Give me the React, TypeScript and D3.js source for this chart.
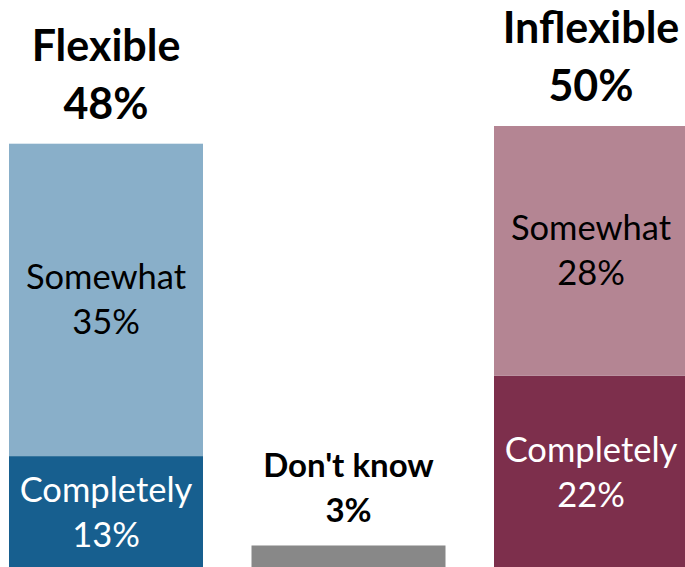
import React from "react";
import * as d3 from "d3";

const groups = ["Flexible", "Don't know", "Inflexible"];
const completely = [12.7, 0, 21.8];
const somewhat = [35.3, 0, 28.2];
const dontKnow = [0, 2.6, 0];
const keys = ["Completely", "Somewhat", "DontKnow"];

const colors: Record<string, string[]> = {
  Completely: ["#175f8f", "#888888", "#7d2f4c"],
  Somewhat: ["#89afc9", "#888888", "#b48593"],
  DontKnow: ["#888888", "#888888", "#888888"],
};
const textColors: Record<string, string> = {
  Completely: "#ffffff",
  Somewhat: "#000000",
};

const W = 685;
const H = 567;
const FONT = "Lato, 'Open Sans', sans-serif";

export default function App() {
  const rows = groups.map((g, i) => ({
    group: g,
    Completely: completely[i],
    Somewhat: somewhat[i],
    DontKnow: dontKnow[i],
  }));
  const stacked = d3.stack<any>().keys(keys)(rows);
  const x = d3.scaleBand<string>().domain(groups).range([9, 688]).paddingInner(0.2).paddingOuter(0);
  const y = d3.scaleLinear().domain([0, 50]).range([568.5, 126]);
  const totals = rows.map((r) => r.Completely + r.Somewhat + r.DontKnow);

  return (
    <svg
      width={W}
      height={H}
      style={{ position: "absolute", left: 0, top: 0, background: "#ffffff" }}
      fontFamily={FONT}
    >
      {stacked.map((layer) =>
        layer.map((d, i) => {
          const v = d[1] - d[0];
          if (v <= 0) return null;
          return (
            <rect
              key={layer.key + i}
              x={x(groups[i])}
              y={y(d[1])}
              width={x.bandwidth()}
              height={y(d[0]) - y(d[1])}
              fill={colors[layer.key][i]}
            />
          );
        })
      )}
      {stacked
        .filter((l) => l.key !== "DontKnow")
        .map((layer) =>
          layer.map((d, i) => {
            const v = d[1] - d[0];
            if (v <= 0) return null;
            const cx = (x(groups[i]) as number) + x.bandwidth() / 2;
            const mid = (y(d[0]) + y(d[1])) / 2;
            return (
              <text
                key={"t" + layer.key + i}
                x={cx}
                textAnchor="middle"
                fontSize={34.5}
                fill={textColors[layer.key]}
              >
                <tspan x={cx} y={mid - 10.5}>{layer.key}</tspan>
                <tspan x={cx} y={mid + 34.5}>{Math.round(v)}%</tspan>
              </text>
            );
          })
        )}
      {groups.map((g, i) => {
        const cx = (x(g) as number) + x.bandwidth() / 2;
        const top = y(totals[i]);
        const isDK = g === "Don't know";
        const gap = isDK ? 45 : 58;
        return (
          <text
            key={"h" + i}
            textAnchor="middle"
            fontWeight="bold"
            fontSize={isDK ? 33 : 43}
            fill="#000000"
          >
            <tspan x={cx} y={top - (isDK ? 23 : 25) - gap}>{g}</tspan>
            <tspan x={cx} y={top - (isDK ? 23 : 25)}>{Math.round(totals[i])}%</tspan>
          </text>
        );
      })}
    </svg>
  );
}
